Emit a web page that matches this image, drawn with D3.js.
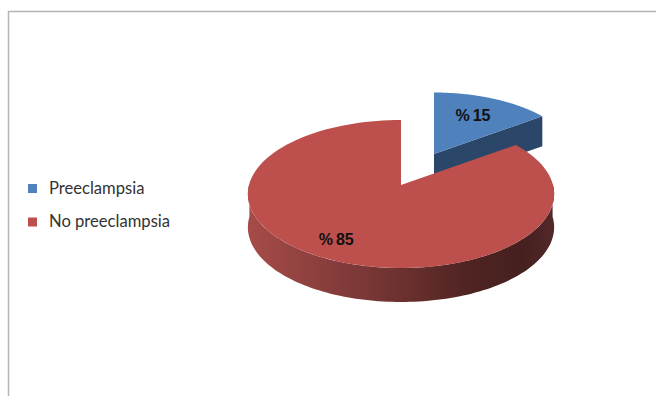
<!DOCTYPE html>
<html>
<head>
<meta charset="utf-8">
<script src="https://cdn.jsdelivr.net/npm/d3@7"></script>
<style>
  html, body { margin: 0; padding: 0; background: #fff; }
  svg { display: block; }
</style>
</head>
<body>
<svg id="chart" width="656" height="396"></svg>
<script>
const categories = ["Preeclampsia", "No preeclampsia"];
const values = [15, 85];
const valueLabels = ["% 15", "% 85"];
const topColors = ["#4f81bd", "#bd4f4c"];
const wallColors = ["#2a4669"];

const svg = d3.select("#chart");
const W = 656, H = 396;

// Chart frame, open at the right and the bottom
svg.append("path")
  .attr("d", `M8.5,${H} V11.5 H${W}`)
  .attr("fill", "none").attr("stroke", "#b4b4b4").attr("stroke-width", 1.5);

// Perspective projection of the tilted pie disc
const R = 152, H3D = 72.9, K = 0.1216;
function project(angle, r, origin, scale) {
  const w = 1 + K * r * Math.cos(angle) * scale;
  return [
    origin[0] + scale * R * r * Math.sin(angle) / w,
    origin[1] - scale * H3D * r * Math.cos(angle) / w
  ];
}

const slices = d3.pie().sort(null).startAngle(0).endAngle(2 * Math.PI)(values);

// Each slice has its own exploded origin and size
const origins = [[434, 154], [401, 185]];
const scales = [0.94, 1];
const depth = [30, 34];
const labelRadius = [0.64, 0.78];
const labelShift = [[0, -1], [-6, 0]];

const line = d3.line();
function rimPoints(i, a0, a1, dy) {
  return d3.range(0, 121).map(t => {
    const a = a0 + (a1 - a0) * t / 120;
    const p = project(a, 1, origins[i], scales[i]);
    return [p[0], p[1] + dy * (1 - K * 0.2) / (1 + K * 0.2 * Math.cos(a))];
  });
}

const defs = svg.append("defs");
const grad = defs.append("linearGradient")
  .attr("id", "redWall").attr("gradientUnits", "userSpaceOnUse")
  .attr("x1", origins[1][0] - R).attr("x2", origins[1][0] + R)
  .attr("y1", 0).attr("y2", 0);
[[0, "#a64b48"], [0.22, "#8c403e"], [0.5, "#6c312f"], [0.72, "#4f2422"], [0.9, "#45201f"], [1, "#53282a"]]
  .forEach(([o, c]) => grad.append("stop").attr("offset", o).attr("stop-color", c));

// Blue slice: side wall under the cut edge, then the top face
const blue = slices[0];
const blueRim = rimPoints(0, blue.startAngle, blue.endAngle, 0);
const blueEnd = blueRim[blueRim.length - 1];
svg.append("path")
  .attr("d", line([
    origins[0], blueEnd, [blueEnd[0], blueEnd[1] + depth[0]],
    [origins[0][0], origins[0][1] + depth[0]]
  ]) + "Z")
  .attr("fill", wallColors[0]);
svg.append("path")
  .attr("d", line([origins[0], ...blueRim]) + "Z")
  .attr("fill", topColors[0]);

// Red slice: front wall of the rim, then the top face
const red = slices[1];
const frontStart = Math.max(red.startAngle, Math.PI / 2 - 0.02);
const frontEnd = 3 * Math.PI / 2 + 0.02;
const wallTop = rimPoints(1, frontStart, frontEnd, 0);
const wallBottom = rimPoints(1, frontEnd, frontStart, depth[1]);
svg.append("path")
  .attr("d", line([...wallTop, ...wallBottom]) + "Z")
  .attr("fill", "url(#redWall)");
svg.append("path")
  .attr("d", line([origins[1], ...rimPoints(1, red.startAngle, red.endAngle, 0)]) + "Z")
  .attr("fill", topColors[1]);

// Value labels at each slice's middle angle
slices.forEach((s, i) => {
  const p = project((s.startAngle + s.endAngle) / 2, labelRadius[i], origins[i], scales[i]);
  svg.append("text")
    .attr("x", p[0] + labelShift[i][0]).attr("y", p[1] + labelShift[i][1])
    .attr("text-anchor", "middle").attr("dominant-baseline", "middle")
    .attr("font-family", "'Liberation Sans', Arial, sans-serif")
    .attr("font-weight", "bold").attr("font-size", 16)
    .attr("word-spacing", "-1.5px")
    .attr("fill", "#111")
    .text(valueLabels[i]);
});

// Legend
const legendY = d3.scalePoint().domain(categories).range([189.5, 223]);
const legend = svg.selectAll("g.legend").data(categories).join("g")
  .attr("class", "legend")
  .attr("transform", d => `translate(28,${legendY(d)})`);
legend.append("rect")
  .attr("x", 0).attr("y", -5.5).attr("width", 9).attr("height", 9)
  .attr("fill", (d, i) => topColors[i]);
legend.append("text")
  .attr("x", 21).attr("y", 0)
  .attr("dominant-baseline", "middle")
  .attr("font-family", "Lato, 'Noto Sans', sans-serif")
  .attr("font-size", 16.6).attr("fill", "#333")
  .text(d => d);
</script>
</body>
</html>
